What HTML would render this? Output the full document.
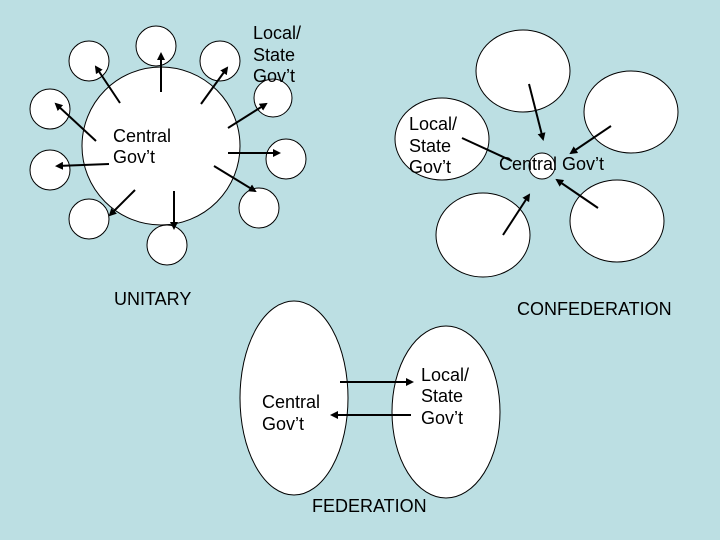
<!DOCTYPE html>
<html><head><style>body{margin:0;background:#bcdfe3}svg{display:block}text{font-family:"Liberation Sans",Arial,sans-serif;font-size:18px;fill:#000}</style></head><body>
<svg width="720" height="540" viewBox="0 0 720 540">
<defs><marker id="a" markerWidth="8" markerHeight="8" refX="6" refY="4" orient="auto" markerUnits="userSpaceOnUse"><path d="M0,0 L8,4 L0,8 z" fill="#000"/></marker></defs>
<rect width="720" height="540" fill="#bcdfe3"/>
<g fill="#fff" stroke="#000" stroke-width="1">
<circle cx="161" cy="146" r="79"/>
<circle cx="89" cy="61" r="20"/><circle cx="156" cy="46" r="20"/><circle cx="220" cy="61" r="20"/><circle cx="273" cy="98" r="19"/><circle cx="286" cy="159" r="20"/><circle cx="259" cy="208" r="20"/><circle cx="167" cy="245" r="20"/><circle cx="89" cy="219" r="20"/><circle cx="50" cy="170" r="20"/><circle cx="50" cy="109" r="20"/>
<ellipse cx="523" cy="71" rx="47" ry="41"/><ellipse cx="631" cy="112" rx="47" ry="41"/><ellipse cx="442" cy="139" rx="47" ry="41"/><ellipse cx="483" cy="235" rx="47" ry="42"/><ellipse cx="617" cy="221" rx="47" ry="41"/>
<circle cx="542" cy="166" r="13"/>
<ellipse cx="294" cy="398" rx="54" ry="97"/><ellipse cx="446" cy="412" rx="54" ry="86"/>
</g>
<g stroke="#000" stroke-width="2" marker-end="url(#a)">
<line x1="120" y1="103" x2="96" y2="67"/><line x1="161" y1="92" x2="161" y2="54"/><line x1="201" y1="104" x2="227" y2="68"/><line x1="228" y1="128" x2="266" y2="104"/><line x1="228" y1="153" x2="279" y2="153"/><line x1="214" y1="166" x2="255" y2="191"/><line x1="174" y1="191" x2="174" y2="228"/><line x1="135" y1="190" x2="110" y2="215"/><line x1="109" y1="164" x2="57" y2="166"/><line x1="96" y1="141" x2="56" y2="104"/>
<line x1="529" y1="84" x2="543" y2="139"/><line x1="611" y1="126" x2="571" y2="153"/><line x1="503" y1="235" x2="529" y2="195"/><line x1="598" y1="208" x2="557" y2="180"/>
<line x1="340" y1="382" x2="412" y2="382"/><line x1="411" y1="415" x2="332" y2="415"/>
</g>
<line x1="462" y1="138" x2="512" y2="161" stroke="#000" stroke-width="2"/>
<text x="253" y="39">Local/</text><text x="253" y="61">State</text><text x="253" y="82">Gov’t</text>
<text x="113" y="142">Central</text><text x="113" y="163">Gov’t</text>
<text x="409" y="130">Local/</text><text x="409" y="152">State</text><text x="409" y="173">Gov’t</text>
<text x="499" y="170">Central Gov’t</text>
<text x="114" y="305">UNITARY</text>
<text x="517" y="315">CONFEDERATION</text>
<text x="262" y="408">Central</text><text x="262" y="430">Gov’t</text>
<text x="421" y="381">Local/</text><text x="421" y="402">State</text><text x="421" y="424">Gov’t</text>
<text x="312" y="512">FEDERATION</text>
</svg>
</body></html>
